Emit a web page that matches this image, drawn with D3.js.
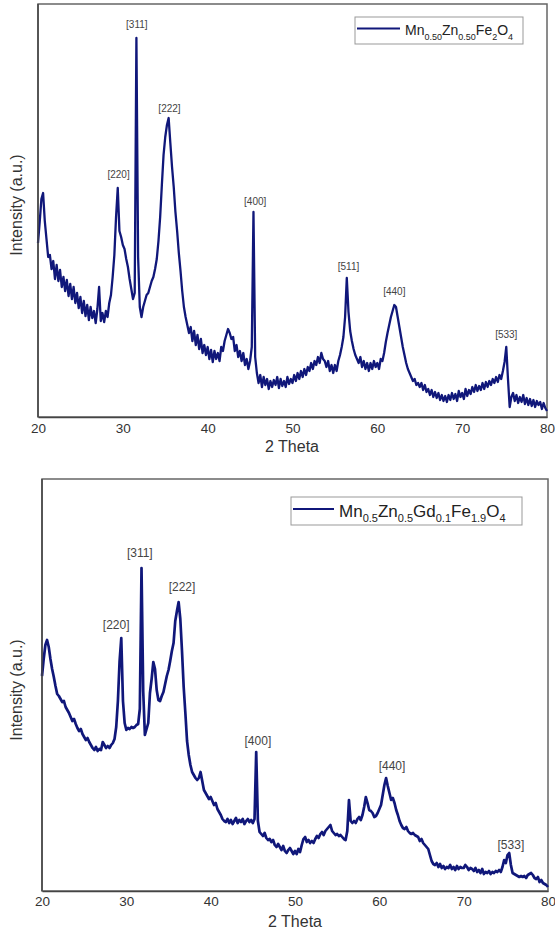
<!DOCTYPE html>
<html>
<head>
<meta charset="utf-8">
<script src="https://cdn.jsdelivr.net/npm/d3@7"></script>
<style>
  body { margin: 0; background: #fff; }
  svg { font-family: "Liberation Sans", Arial, sans-serif; }
</style>
</head>
<body>
<svg id="chart"></svg>
<script>
// 2 theta grid, 0.2 degree step
let thetaStart = 20
let thetaEnd = 80
let thetaStep = 0.2
let xTicks = [20, 30, 40, 50, 60, 70, 80]

// Mn0.50Zn0.50Fe2O4 intensities (a.u.)
let intensityA = [
  174, 195, 218, 224, 196,
  178, 160, 162, 148, 156,
  138, 152, 136, 147, 130,
  140, 126, 137, 121, 133,
  118, 130, 114, 124, 109,
  120, 104, 116, 101, 112,
  97, 110, 99, 106, 94,
  108, 130, 96, 104, 95,
  106, 100, 114, 122, 140,
  162, 200, 229, 186, 180,
  172, 168, 158, 150, 138,
  128, 118, 124, 379, 160,
  110, 100, 110, 116, 122,
  124, 130, 136, 140, 148,
  158, 176, 200, 232, 262,
  280, 292, 299, 274, 250,
  230, 205, 186, 164, 146,
  126, 110, 100, 92, 84,
  90, 76, 86, 72, 82,
  68, 78, 64, 72, 62,
  70, 58, 67, 55, 66,
  58, 64, 56, 70, 66,
  76, 82, 88, 84, 78,
  80, 66, 72, 60, 66,
  56, 64, 52, 58, 48,
  56, 70, 205, 60, 44,
  34, 42, 30, 40, 32,
  38, 28, 36, 30, 37,
  32, 40, 29, 38, 31,
  36, 30, 40, 33, 38,
  34, 42, 36, 44, 38,
  46, 40, 48, 42, 50,
  46, 54, 48, 56, 52,
  60, 54, 64, 58, 56,
  50, 56, 46, 52, 44,
  52, 46, 56, 62, 70,
  80, 100, 139, 105, 86,
  76, 68, 62, 58, 54,
  60, 50, 56, 48, 54,
  46, 54, 48, 56, 50,
  54, 48, 58, 56, 64,
  75, 84, 92, 100, 106,
  112, 110, 100, 90, 80,
  70, 62, 54, 48, 44,
  40, 36, 38, 32, 34,
  30, 34, 27, 32, 25,
  28, 22, 27, 20, 25,
  19, 24, 17, 22, 16,
  21, 15, 22, 17, 24,
  18, 23, 16, 26, 20,
  24, 18, 28, 21, 27,
  23, 30, 25, 32, 26,
  31, 27, 34, 28, 35,
  30, 36, 32, 38, 34,
  40, 35, 42, 38, 46,
  55, 70, 38, 10, 20,
  24, 16, 22, 14, 20,
  15, 22, 13, 19, 12,
  18, 11, 17, 10, 16,
  12, 15, 8, 14, 9,
  6
]

// Mn0.5Zn0.5Gd0.1Fe1.9O4 intensities (a.u.)
let intensityB = [
  215, 232, 246, 251, 244,
  232, 222, 214, 205, 197,
  195, 192, 189, 190, 184,
  181, 178, 174, 170, 172,
  167, 163, 160, 162, 157,
  154, 151, 153, 149, 146,
  143, 141, 144, 140, 142,
  141, 149, 146, 143, 145,
  143, 146, 148, 152, 164,
  190, 230, 253, 190, 168,
  161, 163, 162, 164, 163,
  164, 166, 167, 182, 323,
  200, 156, 162, 168, 198,
  212, 229, 222, 201, 191,
  190, 195, 199, 207, 215,
  221, 230, 240, 248, 270,
  280, 289, 272, 240, 204,
  178, 150, 136, 126, 119,
  116, 113, 111, 113, 119,
  110, 101, 98, 95, 92,
  94, 90, 86, 88, 82,
  79, 76, 72, 70, 69,
  72, 68, 71, 67, 70,
  73, 68, 71, 69, 72,
  67, 70, 72, 69, 71,
  68, 72, 139, 70, 59,
  57, 55, 58, 53, 51,
  52, 49, 51, 46, 44,
  47, 44, 41, 45, 40,
  38, 41, 43, 40, 37,
  40, 37, 42, 39, 46,
  52, 54, 49, 51, 48,
  50, 48, 52, 55, 53,
  57, 59, 56, 60, 62,
  64, 66, 60, 58, 56,
  57, 55, 56, 54, 52,
  51, 60, 91, 70, 68,
  70, 68, 72, 74, 71,
  76, 84, 94, 88, 81,
  80, 78, 74, 75, 78,
  82, 86, 96, 106, 113,
  105, 98, 91, 93, 88,
  81, 76, 70, 66, 63,
  62, 64, 60, 58, 57,
  58, 56, 55, 54, 50,
  52, 48, 46, 44, 42,
  36, 30, 27, 26, 28,
  24, 27, 23, 25, 22,
  24, 23, 26, 22, 24,
  21, 25, 22, 24, 23,
  23, 26, 24, 21, 23,
  22, 20, 23, 19, 21,
  18, 22, 17, 19, 18,
  20, 17, 19, 18, 20,
  19, 21, 19, 24, 31,
  28, 36, 38, 26, 18,
  17, 16, 15, 14, 15,
  14, 15, 13, 16, 17,
  18, 16, 13, 12, 14,
  9, 11, 8, 7, 6,
  4
]

// peak labels: [hkl], 2theta, intensity where the label sits
let peaksA = [
  { hkl: '[220]', theta: 29.5, y: 239 },
  { hkl: '[311]', theta: 31.65, y: 389 },
  { hkl: '[222]', theta: 35.5, y: 305 },
  { hkl: '[400]', theta: 45.6, y: 212 },
  { hkl: '[511]', theta: 56.6, y: 147 },
  { hkl: '[440]', theta: 62.0, y: 122 },
  { hkl: '[533]', theta: 75.2, y: 79 }
]
let peaksB = [
  { hkl: '[220]', theta: 28.8, y: 262 },
  { hkl: '[311]', theta: 31.6, y: 334 },
  { hkl: '[222]', theta: 36.6, y: 300 },
  { hkl: '[400]', theta: 45.6, y: 146 },
  { hkl: '[440]', theta: 61.5, y: 121 },
  { hkl: '[533]', theta: 75.6, y: 42 }
]

let width = 555
let height = 934
let lineColor = '#10177a'

let svg = d3.select('#chart')
    .attr('width', width)
    .attr('height', height)

let thetas = d3.range(0, intensityA.length).map(i => +(thetaStart + i * thetaStep).toFixed(2))

let drawPanel = (cfg) => {
    let data = cfg.values.map((v, i) => ({ theta: thetas[i], value: v }))

    let xScale = d3.scaleLinear()
        .domain([thetaStart, thetaEnd])
        .range([cfg.left, cfg.right])
    let yScale = d3.scaleLinear()
        .domain([0, cfg.yMax])
        .range([cfg.bottom, cfg.top])

    let g = svg.append('g')

    // frame
    g.append('rect')
        .attr('x', cfg.left)
        .attr('y', cfg.top)
        .attr('width', cfg.right - cfg.left)
        .attr('height', cfg.bottom - cfg.top)
        .attr('fill', 'none')
        .attr('stroke', '#666')
        .attr('stroke-width', 1.5)

    let line = d3.line()
        .x(d => xScale(d.theta))
        .y(d => yScale(d.value))

    g.append('path')
        .datum(data)
        .attr('d', line)
        .attr('fill', 'none')
        .attr('stroke', lineColor)
        .attr('stroke-width', cfg.lineWidth)
        .attr('stroke-linejoin', 'round')

    let xAxis = d3.axisBottom(xScale)
        .tickValues(xTicks)
        .tickSize(0)
        .tickPadding(cfg.tickPad)
        .tickFormat(d3.format('d'))

    let ax = g.append('g')
        .attr('transform', 'translate(0, ' + cfg.bottom + ')')
        .call(xAxis)
    ax.select('.domain').attr('stroke', '#444').attr('stroke-width', 1.5)
    ax.selectAll('text')
        .attr('fill', '#333')
        .style('font-size', '13.5px')

    // left axis line
    g.append('line')
        .attr('x1', cfg.left).attr('x2', cfg.left)
        .attr('y1', cfg.top).attr('y2', cfg.bottom)
        .attr('stroke', '#444')
        .attr('stroke-width', 1.5)

    g.append('text')
        .attr('x', cfg.xTitleX)
        .attr('y', cfg.xTitleY)
        .attr('text-anchor', 'middle')
        .attr('fill', '#333')
        .style('font-size', '16px')
        .text('2 Theta')

    g.append('text')
        .attr('transform', 'translate(' + cfg.yTitleX + ',' + cfg.yTitleY + ') rotate(-90)')
        .attr('text-anchor', 'middle')
        .attr('fill', '#333')
        .style('font-size', '16px')
        .text('Intensity (a.u.)')

    // peak labels
    g.selectAll('.peak')
        .data(cfg.peaks)
        .enter()
        .append('text')
        .attr('class', 'peak')
        .attr('x', d => xScale(d.theta))
        .attr('y', d => yScale(d.y))
        .attr('text-anchor', 'middle')
        .attr('fill', '#444')
        .style('font-size', cfg.peakFont + 'px')
        .text(d => d.hkl)

    // legend
    let lg = cfg.legend
    g.append('rect')
        .attr('x', lg.x)
        .attr('y', lg.y)
        .attr('width', lg.w)
        .attr('height', lg.h)
        .attr('fill', '#fff')
        .attr('stroke', '#999')
        .attr('stroke-width', 1)
    g.append('line')
        .attr('x1', lg.x + 2).attr('x2', lg.x + lg.lineLen)
        .attr('y1', lg.y + lg.h / 2 - 2).attr('y2', lg.y + lg.h / 2 - 2)
        .attr('stroke', lineColor)
        .attr('stroke-width', 2)
    let t = g.append('text')
        .attr('x', lg.x + lg.lineLen + 5)
        .attr('y', lg.y + lg.h / 2 + lg.font * 0.35)
        .attr('fill', '#222')
        .style('font-size', lg.font + 'px')
    lg.parts.forEach(p => {
        if (p[1]) {
            t.append('tspan')
                .attr('dy', lg.font * 0.3)
                .style('font-size', lg.subFont + 'px')
                .text(p[0])
        } else {
            t.append('tspan')
                .attr('dy', p[2] ? -lg.font * 0.3 : 0)
                .text(p[0])
        }
    })
}

drawPanel({
    values: intensityA,
    left: 38, right: 547, top: 4, bottom: 417, yMax: 413,
    lineWidth: 2.3, tickPad: 6, peakFont: 10,
    xTitleX: 292, xTitleY: 452,
    yTitleX: 22, yTitleY: 205,
    peaks: peaksA,
    legend: {
        x: 355, y: 17, w: 168, h: 27, lineLen: 45, font: 14, subFont: 9,
        parts: [['Mn', 0], ['0.50', 1], ['Zn', 0, 1], ['0.50', 1], ['Fe', 0, 1], ['2', 1], ['O', 0, 1], ['4', 1]]
    }
})

drawPanel({
    values: intensityB,
    left: 42, right: 548, top: 479, bottom: 891, yMax: 412,
    lineWidth: 2.7, tickPad: 5, peakFont: 12,
    xTitleX: 295, xTitleY: 927,
    yTitleX: 22, yTitleY: 690,
    peaks: peaksB,
    legend: {
        x: 291, y: 497, w: 231, h: 28, lineLen: 43, font: 17, subFont: 11,
        parts: [['Mn', 0], ['0.5', 1], ['Zn', 0, 1], ['0.5', 1], ['Gd', 0, 1], ['0.1', 1], ['Fe', 0, 1], ['1.9', 1], ['O', 0, 1], ['4', 1]]
    }
})
</script>
</body>
</html>
